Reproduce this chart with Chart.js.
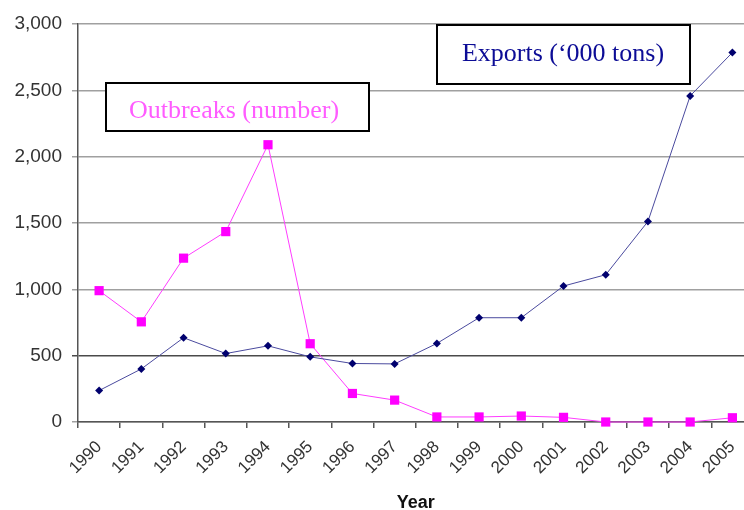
<!DOCTYPE html>
<html>
<head>
<meta charset="utf-8">
<script src="https://cdn.jsdelivr.net/npm/chart.js@4"></script>
<style>
  html, body { margin: 0; padding: 0; background: #fff; overflow: hidden; }
  #wrap { width: 744px; height: 510px; overflow: hidden; }
</style>
</head>
<body>
<div id="wrap"><canvas id="chart" width="760" height="510"></canvas></div>
<script>
const years = ['1990', '1991', '1992', '1993', '1994', '1995', '1996', '1997',
  '1998', '1999', '2000', '2001', '2002', '2003', '2004', '2005'];
const outbreaks = [990, 755, 1235, 1435, 2090, 590, 215, 165, 38, 38, 45, 35, 0, 0, 0, 32];
const exportTons = [237, 400, 635, 516, 574, 491, 441, 438, 592, 786, 786, 1025, 1110, 1512, 2458, 2785];
const yTicks = [0, 500, 1000, 1500, 2000, 2500, 3000];

const SANS = 'Liberation Sans';
const SERIF = 'Liberation Serif';

// boxed captions naming each series
const captions = [
  { text: 'Outbreaks (number)', color: '#ff5cff', box: [106, 83, 263, 48], at: [234, 118] },
  { text: 'Exports (\u2018000 tons)', color: '#0c0c96', box: [437, 25, 253, 59], at: [563, 61] },
];

const captionPlugin = {
  id: 'captions',
  afterDatasetsDraw(chart) {
    const ctx = chart.ctx;
    ctx.save();
    captions.forEach((c) => {
      const [x, y, w, h] = c.box;
      ctx.fillStyle = '#fff';
      ctx.fillRect(x, y, w, h);
      ctx.lineWidth = 2;
      ctx.strokeStyle = '#000';
      ctx.strokeRect(x, y, w, h);
      ctx.font = `26px "${SERIF}"`;
      ctx.textAlign = 'center';
      ctx.textBaseline = 'alphabetic';
      ctx.fillStyle = c.color;
      ctx.fillText(c.text, c.at[0], c.at[1]);
    });
    ctx.restore();
  },
};

new Chart(document.getElementById('chart'), {
  type: 'line',
  data: {
    labels: years,
    datasets: [
      {
        label: 'Exports',
        data: exportTons,
        borderColor: '#4a4a9e',
        borderWidth: 1,
        pointStyle: 'rectRot',
        pointRadius: 4,
        pointBackgroundColor: '#00006e',
        pointBorderColor: '#00006e',
        pointBorderWidth: 0,
        tension: 0,
        clip: false,
      },
      {
        label: 'Outbreaks',
        data: outbreaks,
        borderColor: '#ff3cff',
        borderWidth: 1,
        pointStyle: 'rect',
        pointRadius: 6.5,
        pointBackgroundColor: '#ff00ff',
        pointBorderColor: '#ff00ff',
        pointBorderWidth: 0,
        tension: 0,
        clip: false,
      },
    ],
  },
  options: {
    responsive: false,
    animation: false,
    layout: { padding: { top: 24, right: 6, bottom: 0, left: 0 } },
    plugins: { legend: { display: false }, tooltip: { enabled: false } },
    scales: {
      x: {
        offset: true,
        afterFit: (s) => { s.height = 88; },
        grid: { drawOnChartArea: false, offset: true, tickLength: 6, color: '#555', lineWidth: 1.5 },
        border: { color: '#555', width: 1.5 },
        ticks: {
          autoSkip: false,
          minRotation: 45,
          maxRotation: 45,
          padding: 9,
          color: '#333',
          font: { family: SANS, size: 17 },
        },
        title: {
          display: true,
          text: 'Year',
          color: '#111',
          padding: { top: 0, bottom: -2 },
          font: { family: SANS, size: 18, weight: 'bold', lineHeight: 1 },
        },
      },
      y: {
        min: 0,
        max: 3000,
        afterBuildTicks: (s) => { s.ticks = yTicks.map((v) => ({ value: v })); },
        afterFit: (s) => { s.width = 78; },
        grid: {
          color: (c) => (c.tick && c.tick.value === 500 ? '#4a4a4a' : '#a0a0a0'),
          lineWidth: 1.5,
          tickLength: 6,
        },
        border: { color: '#555', width: 1.5 },
        ticks: {
          padding: 10,
          color: '#333',
          font: { family: SANS, size: 19 },
          callback: (v) => v.toLocaleString('en-US'),
        },
      },
    },
  },
  plugins: [captionPlugin],
});
</script>
</body>
</html>
